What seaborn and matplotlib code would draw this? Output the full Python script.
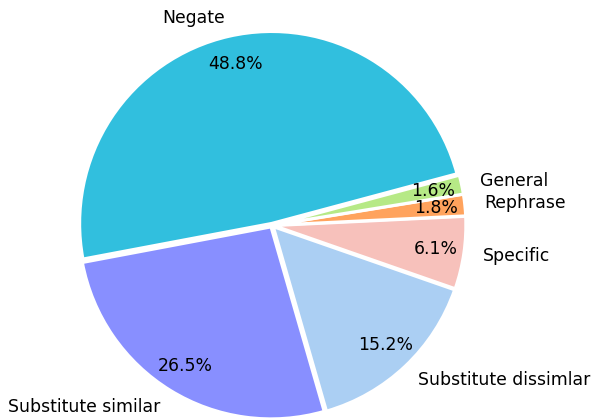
import matplotlib
matplotlib.use("Agg")
import matplotlib.pyplot as plt
import seaborn as sns

sns.set_theme(style="white")
plt.rcParams["font.family"] = ["DejaVu Sans"]

labels = ["Negate", "Substitute similar", "Substitute dissimlar", "Specific", "Rephrase", "General"]
shares = [48.8, 26.5, 15.2, 6.1, 1.8, 1.6]
colors = ["#31bfde", "#888fff", "#abcff3", "#f7c1bb", "#ffa35d", "#b6e986"]

fig = plt.figure(figsize=(5.93, 4.18), dpi=100)
ax = fig.add_axes([0.0702, -0.090, 0.777, 1.102])

ax.pie(shares, labels=labels, colors=colors, autopct="%1.1f%%",
       startangle=15, pctdistance=0.85, labeldistance=1.1,
       explode=[0.01] * len(shares),
       wedgeprops=dict(edgecolor="white", linewidth=2.2),
       textprops=dict(fontsize=12.4, color="black"))
ax.set_xlim(-1.2, 1.2)
ax.set_ylim(-1.2, 1.2)
ax.set_aspect("equal")

fig.savefig("out.png", dpi=100)
